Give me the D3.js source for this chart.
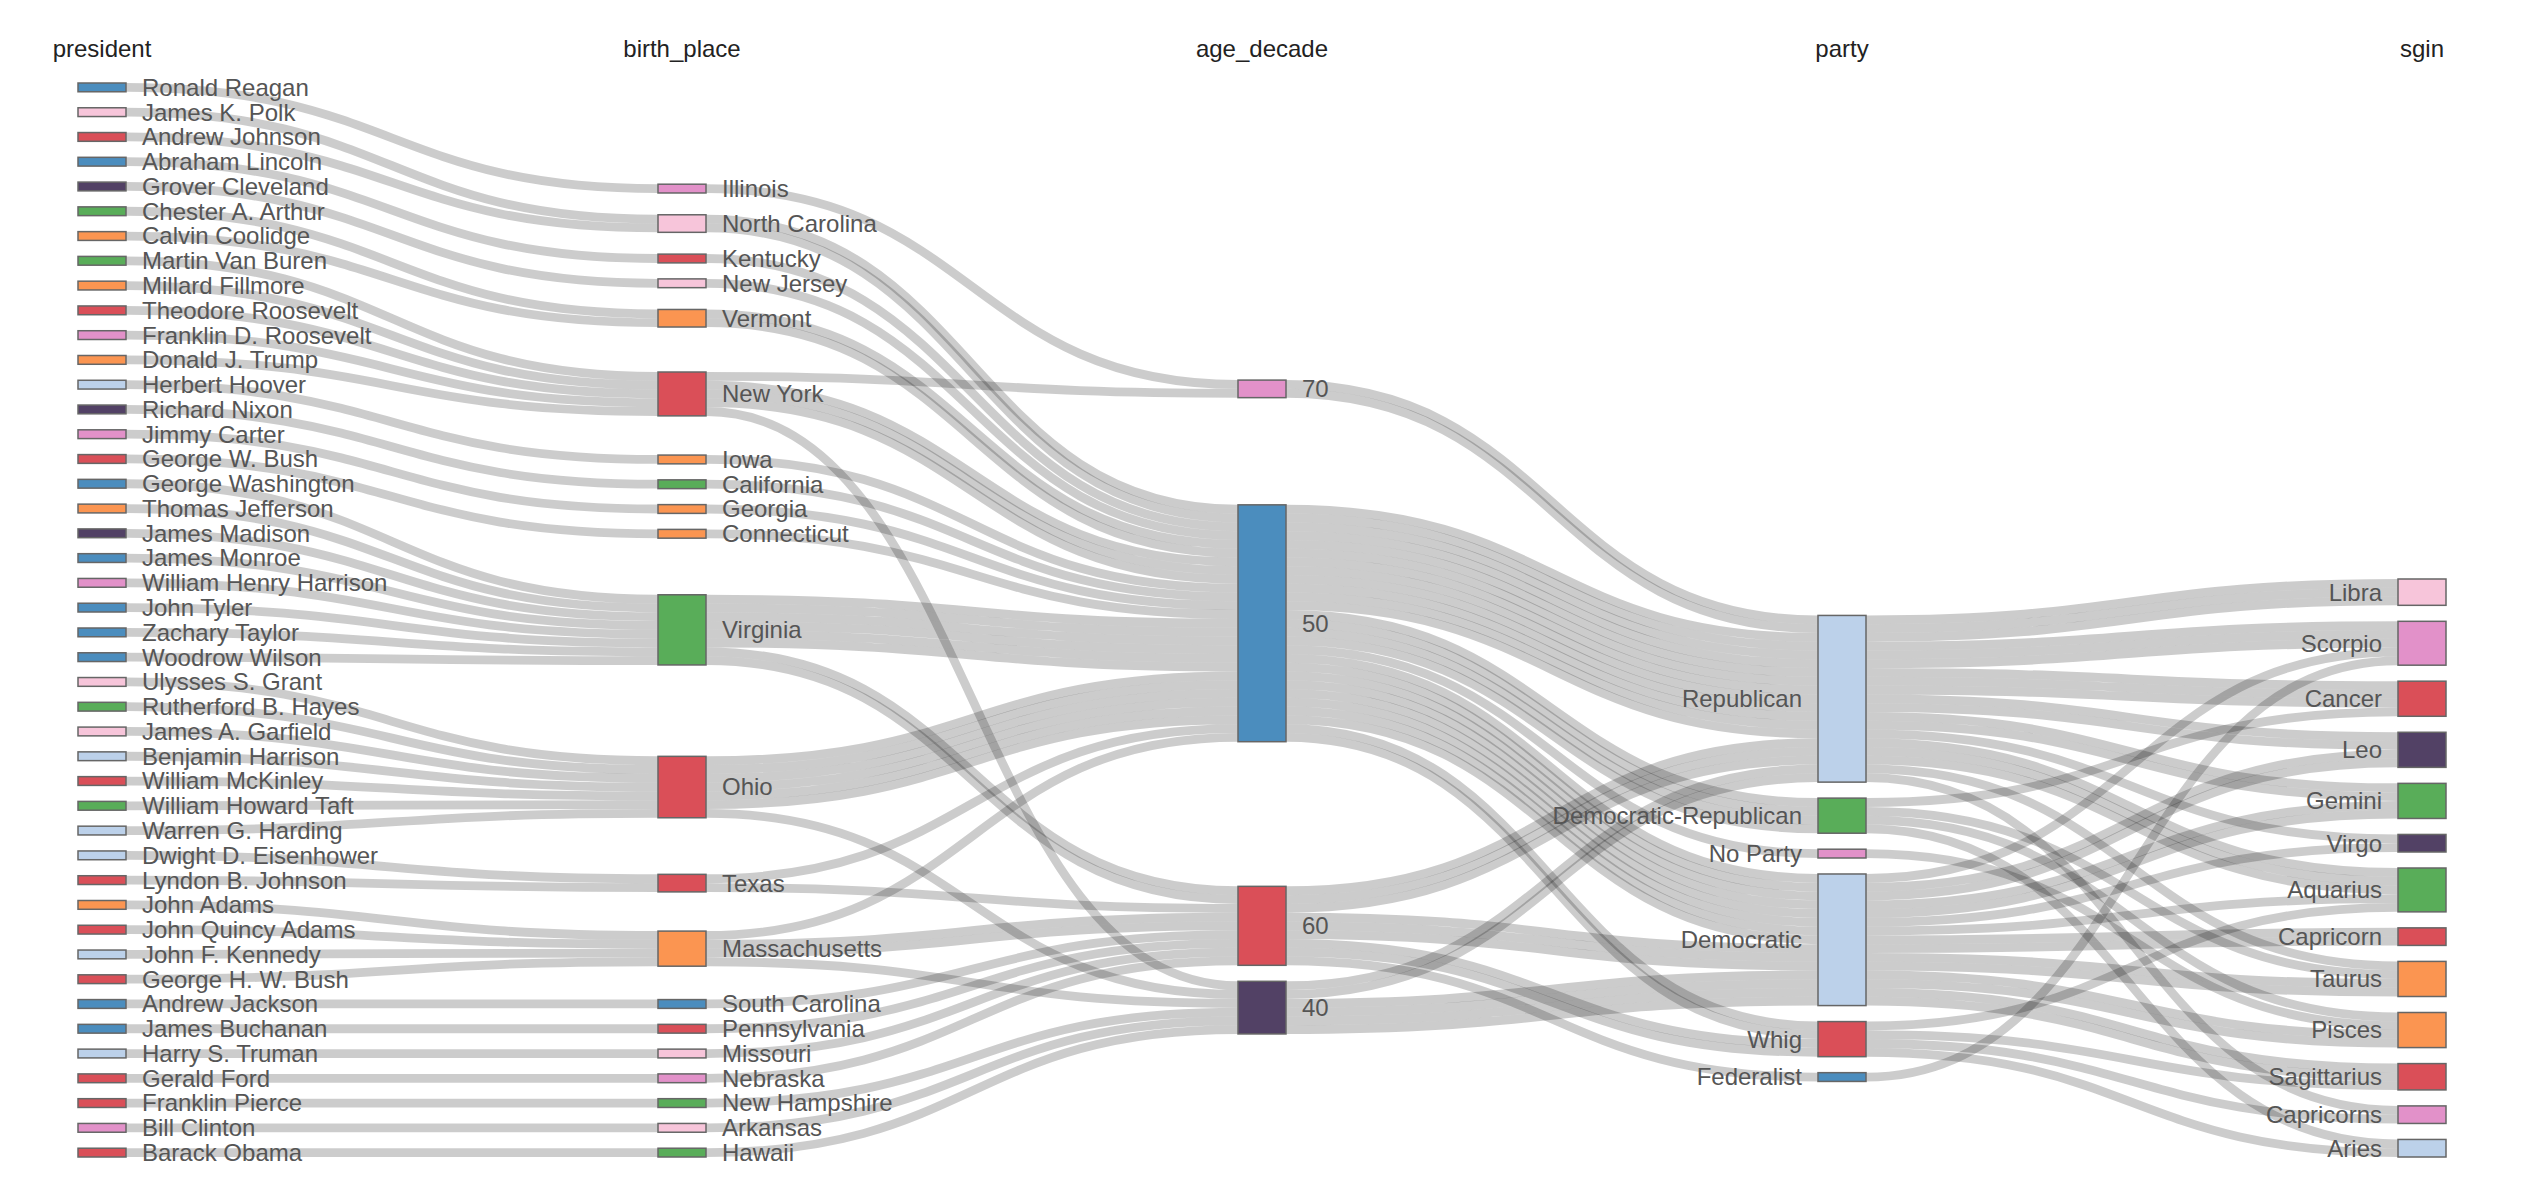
<!DOCTYPE html>
<html>
<head>
<meta charset="utf-8">
<script src="https://cdn.jsdelivr.net/npm/d3@7"></script>
<style>
  body { margin: 0; background: #fff; }
  svg { display: block; font-family: "Liberation Sans", Arial, Helvetica, sans-serif; }
</style>
</head>
<body>
<svg id="chart" width="2522" height="1180"></svg>
<script>
// column names (as in the source data)
const dimensions = ["president", "birth_place", "age_decade", "party", "sgin"];

// one entry per president, index aligned (listed top to bottom as drawn)
const presidents = [
  "Ronald Reagan", "James K. Polk", "Andrew Johnson", "Abraham Lincoln", "Grover Cleveland",
  "Chester A. Arthur", "Calvin Coolidge", "Martin Van Buren", "Millard Fillmore", "Theodore Roosevelt",
  "Franklin D. Roosevelt", "Donald J. Trump", "Herbert Hoover", "Richard Nixon", "Jimmy Carter",
  "George W. Bush", "George Washington", "Thomas Jefferson", "James Madison", "James Monroe",
  "William Henry Harrison", "John Tyler", "Zachary Taylor", "Woodrow Wilson", "Ulysses S. Grant",
  "Rutherford B. Hayes", "James A. Garfield", "Benjamin Harrison", "William McKinley", "William Howard Taft",
  "Warren G. Harding", "Dwight D. Eisenhower", "Lyndon B. Johnson", "John Adams", "John Quincy Adams",
  "John F. Kennedy", "George H. W. Bush", "Andrew Jackson", "James Buchanan", "Harry S. Truman",
  "Gerald Ford", "Franklin Pierce", "Bill Clinton", "Barack Obama"
];
const birthPlaces = [
  "Illinois", "North Carolina", "North Carolina", "Kentucky", "New Jersey",
  "Vermont", "Vermont", "New York", "New York", "New York",
  "New York", "New York", "Iowa", "California", "Georgia",
  "Connecticut", "Virginia", "Virginia", "Virginia", "Virginia",
  "Virginia", "Virginia", "Virginia", "Virginia", "Ohio",
  "Ohio", "Ohio", "Ohio", "Ohio", "Ohio",
  "Ohio", "Texas", "Texas", "Massachusetts", "Massachusetts",
  "Massachusetts", "Massachusetts", "South Carolina", "Pennsylvania", "Missouri",
  "Nebraska", "New Hampshire", "Arkansas", "Hawaii"
];
const ageDecades = [
  "70", "50", "50", "50", "50",
  "50", "50", "50", "50", "40",
  "50", "70", "50", "50", "50",
  "50", "50", "50", "50", "50",
  "60", "50", "60", "50", "40",
  "50", "50", "50", "50", "50",
  "50", "60", "50", "60", "50",
  "40", "60", "60", "60", "60",
  "60", "40", "40", "40"
];
const parties = [
  "Republican", "Democratic", "Democratic", "Republican", "Democratic",
  "Republican", "Republican", "Democratic", "Whig", "Republican",
  "Democratic", "Republican", "Republican", "Republican", "Democratic",
  "Republican", "No Party", "Democratic-Republican", "Democratic-Republican", "Democratic-Republican",
  "Whig", "Whig", "Whig", "Democratic", "Republican",
  "Republican", "Republican", "Republican", "Republican", "Republican",
  "Republican", "Republican", "Democratic", "Federalist", "Democratic-Republican",
  "Democratic", "Republican", "Democratic", "Democratic", "Democratic",
  "Republican", "Democratic", "Democratic", "Democratic"
];
const signs = [
  "Aquarius", "Scorpio", "Capricorn", "Aquarius", "Pisces",
  "Libra", "Cancer", "Sagittarius", "Capricorns", "Scorpio",
  "Aquarius", "Gemini", "Leo", "Capricorns", "Gemini",
  "Cancer", "Pisces", "Aries", "Pisces", "Taurus",
  "Aquarius", "Aries", "Sagittarius", "Capricorn", "Taurus",
  "Libra", "Scorpio", "Leo", "Aquarius", "Virgo",
  "Scorpio", "Libra", "Virgo", "Scorpio", "Cancer",
  "Gemini", "Gemini", "Pisces", "Taurus", "Taurus",
  "Cancer", "Sagittarius", "Leo", "Leo"
];

// category order, top to bottom, in the other columns
const birthPlaceOrder = [
  "Illinois", "North Carolina", "Kentucky", "New Jersey", "Vermont", "New York", "Iowa",
  "California", "Georgia", "Connecticut", "Virginia", "Ohio", "Texas", "Massachusetts",
  "South Carolina", "Pennsylvania", "Missouri", "Nebraska", "New Hampshire", "Arkansas", "Hawaii"
];
const ageDecadeOrder = ["70", "50", "60", "40"];
const partyOrder = ["Republican", "Democratic-Republican", "No Party", "Democratic", "Whig", "Federalist"];
const signOrder = [
  "Libra", "Scorpio", "Cancer", "Leo", "Gemini", "Virgo", "Aquarius",
  "Capricorn", "Taurus", "Pisces", "Sagittarius", "Capricorns", "Aries"
];

// node fill colours
const colourGroups = {
  "#4b8dbe": ["Ronald Reagan", "Abraham Lincoln", "George Washington", "James Monroe", "John Tyler",
    "Zachary Taylor", "Woodrow Wilson", "Andrew Jackson", "James Buchanan", "South Carolina", "50", "Federalist"],
  "#f7c5da": ["James K. Polk", "Ulysses S. Grant", "James A. Garfield", "North Carolina", "New Jersey",
    "Missouri", "Arkansas", "Libra"],
  "#da4f58": ["Andrew Johnson", "Theodore Roosevelt", "George W. Bush", "William McKinley", "Lyndon B. Johnson",
    "John Quincy Adams", "George H. W. Bush", "Gerald Ford", "Franklin Pierce", "Barack Obama", "Kentucky",
    "New York", "Ohio", "Texas", "Pennsylvania", "60", "Whig", "Cancer", "Capricorn", "Sagittarius"],
  "#524165": ["Grover Cleveland", "Richard Nixon", "James Madison", "40", "Leo", "Virgo"],
  "#59ad59": ["Chester A. Arthur", "Martin Van Buren", "Rutherford B. Hayes", "William Howard Taft", "California",
    "Virginia", "New Hampshire", "Hawaii", "Democratic-Republican", "Gemini", "Aquarius"],
  "#fb9551": ["Calvin Coolidge", "Millard Fillmore", "Donald J. Trump", "Thomas Jefferson", "John Adams", "Vermont",
    "Iowa", "Georgia", "Connecticut", "Massachusetts", "Taurus", "Pisces"],
  "#bcd1ea": ["Herbert Hoover", "Benjamin Harrison", "Warren G. Harding", "Dwight D. Eisenhower", "John F. Kennedy",
    "Harry S. Truman", "Republican", "Democratic", "Aries"],
  "#e291c9": ["Franklin D. Roosevelt", "Jimmy Carter", "William Henry Harrison", "Bill Clinton", "Illinois",
    "Nebraska", "70", "No Party", "Scorpio", "Capricorns"]
};
const colourOf = new Map();
for (const [c, names] of Object.entries(colourGroups)) names.forEach(n => colourOf.set(n, c));

const width = 2522;
const height = 1180;

// ---- parallel-sets graph: one node per value, one link per president between neighbouring columns
const columnsData = [presidents, birthPlaces, ageDecades, parties, signs];
const columnOrders = [presidents, birthPlaceOrder, ageDecadeOrder, partyOrder, signOrder];

const nodes = [];
columnOrders.forEach((order, layer) => {
  order.forEach((name, i) => nodes.push({ id: layer + ":" + name, name, layer, order: i }));
});

const links = [];
for (let k = 1; k < columnsData.length; k++) {
  presidents.forEach((p, i) => {
    links.push({
      source: (k - 1) + ":" + columnsData[k - 1][i],
      target: k + ":" + columnsData[k][i],
      value: 1
    });
  });
}

// ---- sankey layout (classic d3-sankey relaxation, columns kept in the given order)
function sankey(graph, { x0, y0, x1, y1, nodeWidth: dx, nodePadding: py, iterations }) {
  const { nodes, links } = graph;
  const byId = new Map(nodes.map(d => [d.id, d]));
  nodes.forEach((d, i) => { d.index = i; d.sourceLinks = []; d.targetLinks = []; });
  links.forEach((l, i) => {
    l.index = i;
    l.source = byId.get(l.source);
    l.target = byId.get(l.target);
    l.source.sourceLinks.push(l);
    l.target.targetLinks.push(l);
  });
  nodes.forEach(d => {
    d.value = Math.max(d3.sum(d.sourceLinks, l => l.value), d3.sum(d.targetLinks, l => l.value));
  });

  const n = d3.max(nodes, d => d.layer) + 1;
  const kx = (x1 - x0 - dx) / (n - 1);
  const columns = d3.range(n).map(() => []);
  nodes.forEach(d => {
    d.x0 = x0 + d.layer * kx;
    d.x1 = d.x0 + dx;
    columns[d.layer].push(d);
  });
  columns.forEach(c => c.sort((a, b) => a.order - b.order));

  const centre = d => (d.y0 + d.y1) / 2;
  const byY = (a, b) => a.y0 - b.y0;

  const ky = d3.min(columns, c => (y1 - y0 - (c.length - 1) * py) / d3.sum(c, d => d.value));
  columns.forEach(c => c.forEach((d, i) => { d.y0 = i; d.y1 = i + d.value * ky; }));
  links.forEach(l => { l.width = l.value * ky; });

  function resolveCollisions() {
    for (const c of columns) {
      let y = y0, d, dy;
      for (let i = 0; i < c.length; ++i) {
        d = c[i];
        dy = y - d.y0;
        if (dy > 0) { d.y0 += dy; d.y1 += dy; }
        y = d.y1 + py;
      }
      dy = y - py - y1;
      if (dy > 0) {
        y = (d.y0 -= dy); d.y1 -= dy;
        for (let i = c.length - 2; i >= 0; --i) {
          d = c[i];
          dy = d.y1 + py - y;
          if (dy > 0) { d.y0 -= dy; d.y1 -= dy; }
          y = d.y0;
        }
      }
    }
  }
  function relaxLeftToRight(alpha) {
    for (const c of columns) {
      for (const d of c) {
        if (!d.targetLinks.length) continue;
        const dy = (d3.sum(d.targetLinks, l => centre(l.source) * l.value) /
          d3.sum(d.targetLinks, l => l.value) - centre(d)) * alpha;
        d.y0 += dy; d.y1 += dy;
      }
    }
  }
  function relaxRightToLeft(alpha) {
    for (const c of columns.slice().reverse()) {
      for (const d of c) {
        if (!d.sourceLinks.length) continue;
        const dy = (d3.sum(d.sourceLinks, l => centre(l.target) * l.value) /
          d3.sum(d.sourceLinks, l => l.value) - centre(d)) * alpha;
        d.y0 += dy; d.y1 += dy;
      }
    }
  }

  resolveCollisions();
  for (let alpha = 1, k = iterations; k > 0; --k) {
    relaxRightToLeft(alpha *= 0.99);
    resolveCollisions();
    relaxLeftToRight(alpha);
    resolveCollisions();
  }

  const bySource = (a, b) => byY(a.source, b.source) || a.index - b.index;
  const byTarget = (a, b) => byY(a.target, b.target) || a.index - b.index;
  for (const d of nodes) {
    d.sourceLinks.sort(byTarget);
    d.targetLinks.sort(bySource);
  }
  for (const d of nodes) {
    let ys = d.y0, yt = d.y0;
    for (const l of d.sourceLinks) { l.y0 = ys + l.width / 2; ys += l.width; }
    for (const l of d.targetLinks) { l.y1 = yt + l.width / 2; yt += l.width; }
  }
  return { nodes, links, columns };
}

const graph = sankey({ nodes, links }, {
  x0: 78, y0: 83, x1: 2446, y1: 1157,
  nodeWidth: 48, nodePadding: 16, iterations: 32
});

// ---- draw
const svg = d3.select("#chart");

svg.append("g")
    .attr("fill", "none")
    .attr("stroke", "#000")
    .attr("stroke-opacity", 0.2)
  .selectAll("path")
  .data(graph.links)
  .join("path")
    .attr("d", d3.linkHorizontal()
      .source(d => [d.source.x1, d.y0])
      .target(d => [d.target.x0, d.y1]))
    .attr("stroke-width", d => Math.max(1, d.width));

svg.append("g")
  .selectAll("rect")
  .data(graph.nodes)
  .join("rect")
    .attr("x", d => d.x0)
    .attr("y", d => d.y0)
    .attr("width", d => d.x1 - d.x0)
    .attr("height", d => d.y1 - d.y0)
    .attr("fill", d => colourOf.get(d.name) || "#ccc")
    .attr("stroke", "#666")
    .attr("stroke-width", 1.5);

svg.append("g")
    .attr("font-size", 24)
    .attr("fill", "#555")
  .selectAll("text")
  .data(graph.nodes)
  .join("text")
    .attr("x", d => d.x0 < width / 2 ? d.x1 + 16 : d.x0 - 16)
    .attr("y", d => (d.y0 + d.y1) / 2)
    .attr("dy", "0.35em")
    .attr("text-anchor", d => d.x0 < width / 2 ? "start" : "end")
    .text(d => d.name);

svg.append("g")
    .attr("font-size", 24)
    .attr("fill", "#222")
    .attr("text-anchor", "middle")
  .selectAll("text")
  .data(dimensions)
  .join("text")
    .attr("x", (d, i) => (graph.columns[i][0].x0 + graph.columns[i][0].x1) / 2)
    .attr("y", 57)
    .text(d => d);
</script>
</body>
</html>
